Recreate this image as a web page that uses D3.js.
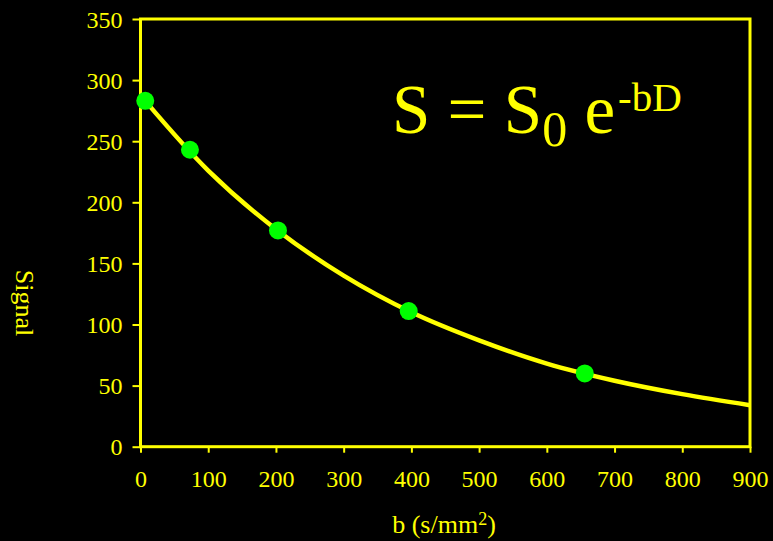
<!DOCTYPE html>
<html>
<head>
<meta charset="utf-8">
<script src="https://cdn.jsdelivr.net/npm/d3@7"></script>
<style>
    html, body { margin: 0; padding: 0; background: #000; }
    svg { display: block; }
    .tick text { font-family: "Liberation Serif", "Times New Roman", serif; font-size: 24px; fill: #ffff00; }
    .label { font-family: "Liberation Serif", "Times New Roman", serif; font-size: 26px; fill: #ffff00; }
    .formula { font-family: "Liberation Serif", "Times New Roman", serif; fill: #ffff00; }
</style>
</head>
<body>
<svg width="773" height="541"></svg>
<script>
// measured points
const bValues = [7, 73, 203, 396, 656];
const signalValues = [283, 243, 177, 111, 60];

// fitted curve
const curveB = [7, 100, 200, 300, 400, 500, 600, 700, 800, 900];
const curveS = [283, 226, 178, 140, 110, 87, 68, 54, 43, 34];

const xTicks = [0, 100, 200, 300, 400, 500, 600, 700, 800, 900];
const yTicks = [0, 50, 100, 150, 200, 250, 300, 350];

const yellow = '#ffff00';
const green = '#00ff00';

const svg = d3.select('svg');

const margin = {top: 19, left: 140.5};
const width = 609.5;
const height = 427.7;

const chart = svg.append('g')
    .attr('transform', `translate(${margin.left}, ${margin.top})`);

const xScale = d3.scaleLinear()
    .domain([0, 900])
    .range([0, width]);

const yScale = d3.scaleLinear()
    .domain([0, 350])
    .range([height, 0]);

// x axis
const xAxis = chart.append('g')
    .attr('transform', `translate(0, ${height})`)
    .call(d3.axisBottom(xScale)
        .tickValues(xTicks)
        .tickSize(6)
        .tickPadding(17)
        .tickFormat(d3.format('d')));

// y axis
const yAxis = chart.append('g')
    .call(d3.axisLeft(yScale)
        .tickValues(yTicks)
        .tickSize(8)
        .tickPadding(10)
        .tickFormat(d3.format('d')));

[xAxis, yAxis].forEach((ax) => {
    ax.select('.domain').remove();
    ax.selectAll('.tick line')
        .attr('stroke', yellow)
        .attr('stroke-width', 2);
    ax.selectAll('.tick text').attr('fill', yellow);
});
yAxis.selectAll('.tick text').attr('dy', '0.34em');

// plot frame
chart.append('rect')
    .attr('x', 0)
    .attr('y', 0)
    .attr('width', width)
    .attr('height', height)
    .attr('fill', 'none')
    .attr('stroke', yellow)
    .attr('stroke-width', 3);

// fitted curve
const line = d3.line()
    .x((d, i) => xScale(curveB[i]))
    .y((d) => yScale(d))
    .curve(d3.curveCatmullRom);

chart.append('path')
    .datum(curveS)
    .attr('d', line)
    .attr('fill', 'none')
    .attr('stroke', yellow)
    .attr('stroke-width', 4.5);

// data points
chart.selectAll('.dot')
    .data(signalValues)
    .enter()
    .append('circle')
    .attr('class', 'dot')
    .attr('cx', (d, i) => xScale(bValues[i]))
    .attr('cy', (d) => yScale(d))
    .attr('r', 9)
    .attr('fill', green);

// formula  S = S0 e^-bD
const formula = svg.append('text')
    .attr('class', 'formula')
    .attr('x', 392)
    .attr('y', 133)
    .attr('font-size', 69);
formula.append('tspan').text('S = S');
formula.append('tspan').attr('font-size', 50).attr('dy', 13).text('0');
formula.append('tspan').attr('dy', -13).text('\u00a0e');
formula.append('tspan').attr('font-size', 41).attr('dy', -22).attr('dx', 3).text('-bD');

// axis labels
svg.append('text')
    .attr('class', 'label')
    .attr('transform', 'translate(16, 303) rotate(90)')
    .attr('text-anchor', 'middle')
    .attr('font-size', 27)
    .text('Signal');

const xLabel = svg.append('text')
    .attr('class', 'label')
    .attr('x', 444)
    .attr('y', 533)
    .attr('text-anchor', 'middle');
xLabel.append('tspan').text('b (s/mm');
xLabel.append('tspan').attr('font-size', 18).attr('dy', -8).text('2');
xLabel.append('tspan').attr('dy', 8).text(')');
</script>
</body>
</html>
